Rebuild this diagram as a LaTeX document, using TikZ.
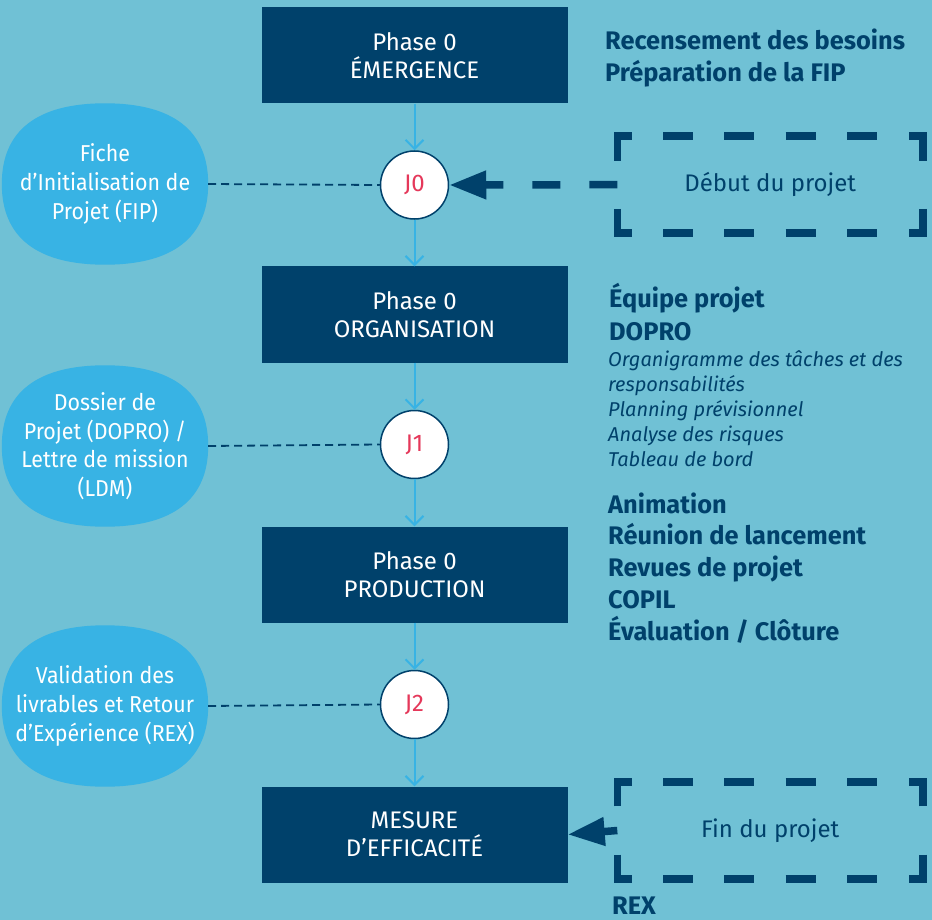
\documentclass[tikz,border=0pt]{standalone}
\usepackage{fontspec}
\setmainfont{Fira Sans}
\newfontfamily\blobfont[FakeStretch=0.93]{Fira Sans}
\usetikzlibrary{arrows.meta,calc}
\pgfdeclarelayer{bglayer}
\pgfdeclarelayer{blobs}
\pgfsetlayers{bglayer,blobs,main}
\definecolor{bg}{HTML}{70C1D5}
\definecolor{dk}{HTML}{00416B}
\definecolor{lb}{HTML}{38B3E4}
\definecolor{jr}{HTML}{E5385A}
\begin{document}
\begin{tikzpicture}[x=1pt,y=-1pt,
  phase/.style={rectangle,fill=dk,text=white,minimum width=306pt,minimum height=96pt,align=center,inner sep=0pt,font=\fontsize{24}{28.4}\selectfont},
  jnode/.style={circle,draw=dk,line width=1.5pt,fill=white,minimum size=68pt,inner sep=0pt,text=jr,font=\fontsize{24}{28}\selectfont},
  blob/.style={rectangle,text=white,minimum width=206pt,minimum height=161pt,align=center,inner sep=0pt,font=\blobfont\fontsize{23}{28.6}\selectfont},
  flow/.style={draw=lb,line width=2pt,-{Straight Barb[length=9pt,width=18pt,line width=2pt]}},
  link/.style={draw=dk,line width=1.8pt,dash pattern=on 8pt off 5pt},
  bigarrow/.style={draw=dk,line width=7.5pt,-{Triangle[length=37pt,width=27pt]}},
  bx/.style={draw=dk,line width=7.5pt,line cap=butt,line join=miter},
  frame/.style={rectangle,minimum width=305.5pt,minimum height=96.7pt,inner sep=0pt,text=dk,font=\fontsize{24}{28}\selectfont},
  boldtxt/.style={text=dk,align=left,inner sep=0pt,font=\bfseries\fontsize{25.4}{32}\selectfont},
  itxt/.style={text=dk,align=left,inner sep=0pt,font=\itshape\fontsize{20}{25}\selectfont}
]
\begin{pgfonlayer}{bglayer}
\fill[bg] (0,0) rectangle (932,920);
\end{pgfonlayer}
\useasboundingbox (0,0) rectangle (932,920);

% phase boxes
\node[phase] (p1) at (414.5,55.5) {Phase 0\\ÉMERGENCE};
\node[phase] (p2) at (414.5,314.5) {Phase 0\\ORGANISATION};
\node[phase] (p3) at (414.5,574.5) {Phase 0\\PRODUCTION};
\node[phase] (p4) at (414.5,834.5) {MESURE\\D’EFFICACITÉ};

% milestones
\node[jnode] (j0) at (414.5,185) {J0};
\node[jnode] (j1) at (414.5,444.5) {J1};
\node[jnode] (j2) at (414.5,704.5) {J2};

% flow arrows
\draw[flow] (p1.south) -- (j0.north);
\draw[flow] (j0.south) -- (p2.north);
\draw[flow] (p2.south) -- (j1.north);
\draw[flow] (j1.south) -- (p3.north);
\draw[flow] (p3.south) -- (j2.north);
\draw[flow] (j2.south) -- (p4.north);

% blobs
\node[blob] (b0) at (105,184) {Fiche\\d’Initialisation de\\Projet (FIP)};
\node[blob] (b1) at (105,446) {Dossier de\\Projet (DOPRO) /\\Lettre de mission\\(LDM)};
\node[blob] (b2) at (105,706) {Validation des\\livrables et Retour\\d’Expérience (REX)};
\begin{pgfonlayer}{blobs}
\foreach \b in {b0,b1,b2}{
  \fill[lb] (\b.east)
    .. controls ($(\b.east)!0.66!(\b.south east)$) and ($(\b.south)!0.66!(\b.south east)$) .. (\b.south)
    .. controls ($(\b.south)!0.66!(\b.south west)$) and ($(\b.west)!0.66!(\b.south west)$) .. (\b.west)
    .. controls ($(\b.west)!0.66!(\b.north west)$) and ($(\b.north)!0.66!(\b.north west)$) .. (\b.north)
    .. controls ($(\b.north)!0.66!(\b.north east)$) and ($(\b.east)!0.66!(\b.north east)$) .. (\b.east) -- cycle;
}
\end{pgfonlayer}

\draw[link] (b0.east) -- (j0.west);
\draw[link] (b1.east) -- (j1.west);
\draw[link] (b2.east) -- (j2.west);

% dashed frames
\node[frame] (deb) at (770.25,184.7) {Début du projet};
\node[frame] (fin) at (770.25,830.5) {Fin du projet};
\foreach \n in {deb,fin}{
  \draw[bx] ([yshift=-24.4pt]\n.north west) -- (\n.north west) -- ([xshift=14.5pt]\n.north west);
  \draw[bx] ([yshift=-24.4pt]\n.north east) -- (\n.north east) -- ([xshift=-14.5pt]\n.north east);
  \draw[bx] ([yshift=24.4pt]\n.south west) -- (\n.south west) -- ([xshift=14.5pt]\n.south west);
  \draw[bx] ([yshift=24.4pt]\n.south east) -- (\n.south east) -- ([xshift=-14.5pt]\n.south east);
  \foreach \i in {0,1,2,3}{
    \draw[bx] ([xshift={45.8pt+\i*61.3pt}]\n.north west) -- ([xshift={75.8pt+\i*61.3pt}]\n.north west);
    \draw[bx] ([xshift={45.8pt+\i*61.3pt}]\n.south west) -- ([xshift={75.8pt+\i*61.3pt}]\n.south west);
  }
}
\draw[bigarrow,dash pattern=on 28pt off 29pt] (deb.west) -- (j0.east);
\draw[bigarrow] (fin.west) -- (p4.east);

% right-hand texts (base anchor = baseline of last line)
\node[boldtxt,anchor=base west] (t1) at (605,81.5) {Recensement des besoins\\Préparation de la FIP};
\node[boldtxt,anchor=base west,font=\bfseries\fontsize{25.4}{33.4}\selectfont] (t2) at (609,340.7) {Équipe projet\\DOPRO};
\node[itxt,anchor=base west] (t3) at (608,466.7) {Organigramme des tâches et des\\responsabilités\\Planning prévisionnel\\Analyse des risques\\Tableau de bord};
\node[boldtxt,anchor=base west,font=\bfseries\fontsize{25.4}{31.7}\selectfont] (t4) at (608,640) {Animation\\Réunion de lancement\\Revues de projet\\COPIL\\Évaluation / Clôture};
\node[boldtxt,anchor=base west] (t5) at (612,914) {REX};
\end{tikzpicture}
\end{document}
